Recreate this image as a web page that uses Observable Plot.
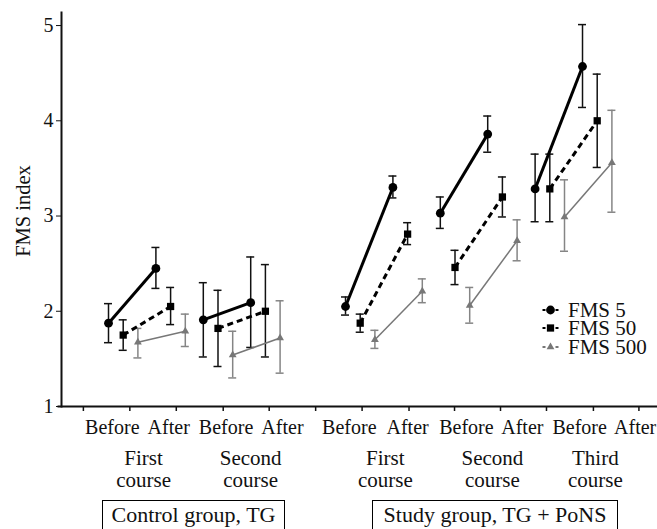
<!DOCTYPE html>
<html>
<head>
<meta charset="utf-8">
<script src="https://cdn.jsdelivr.net/npm/d3@7"></script>
<script src="https://cdn.jsdelivr.net/npm/@observablehq/plot@0.6"></script>
<style>
  html, body { margin: 0; padding: 0; background: #fff; }
  #wrap { position: relative; width: 657px; height: 529px; overflow: hidden; background: #fff; font-family: "Liberation Serif", serif; }
  .box { position: absolute; top: 500px; height: 30px; border: 1px solid #000; box-sizing: border-box; font-size: 22px; line-height: 28px; text-align: center; color: #111; white-space: nowrap; }
  #legend { position: absolute; left: 542px; top: 301px; font-size: 21px; color: #111; }
  #legend .row { display: flex; align-items: center; height: 18.3px; white-space: nowrap; }
  #legend .row span { display: inline-block; height: 18px; line-height: 18px; overflow: visible; }
  #legend svg { margin-right: 9px; }
  #ylabel { position: absolute; left: 23px; top: 211px; transform: translate(-50%, -50%) rotate(-90deg); font-size: 20.5px; line-height: 20px; white-space: nowrap; color: #111; }
</style>
</head>
<body>
<div id="wrap"></div>
<script>
// ---- data ----
const courses = ["First course (Control)", "Second course (Control)", "First course (Study)", "Second course (Study)", "Third course (Study)"];
const courseGroup = ["Control", "Control", "Study", "Study", "Study"];
const seriesNames = ["FMS 5", "FMS 50", "FMS 500"];

const fms5Before   = [1.875, 1.91, 2.05, 3.03, 3.285];
const fms5BeforeHi = [2.08, 2.30, 2.15, 3.20, 3.65];
const fms5BeforeLo = [1.67, 1.52, 1.96, 2.87, 2.94];
const fms5After    = [2.45, 2.09, 3.30, 3.86, 4.57];
const fms5AfterHi  = [2.67, 2.57, 3.42, 4.05, 5.01];
const fms5AfterLo  = [2.24, 1.62, 3.19, 3.67, 4.14];

const fms50Before   = [1.75, 1.82, 1.875, 2.46, 3.285];
const fms50BeforeHi = [1.91, 2.22, 1.97, 2.64, 3.65];
const fms50BeforeLo = [1.59, 1.42, 1.78, 2.28, 2.94];
const fms50After    = [2.05, 2.00, 2.81, 3.20, 4.00];
const fms50AfterHi  = [2.25, 2.49, 2.93, 3.41, 4.49];
const fms50AfterLo  = [1.86, 1.52, 2.70, 2.99, 3.51];

const fms500Before   = [1.675, 1.54, 1.70, 2.06, 2.99];
const fms500BeforeHi = [1.82, 1.79, 1.80, 2.25, 3.38];
const fms500BeforeLo = [1.51, 1.30, 1.61, 1.875, 2.63];
const fms500After    = [1.79, 1.72, 2.21, 2.74, 3.56];
const fms500AfterHi  = [1.97, 2.11, 2.34, 2.96, 4.11];
const fms500AfterLo  = [1.63, 1.35, 2.09, 2.53, 3.04];

const yTicks = [1, 2, 3, 4, 5];
const yLabel = "FMS index";
const phaseLabels = ["Before", "After", "Before", "After", "Before", "After", "Before", "After", "Before", "After"];
const phaseLabelPos = [0.08, 1.27, 2.48, 3.67, 5.08, 6.31, 7.55, 8.73, 9.94, 11.11];
const xTickPos = [-0.53, 0.45, 1.43, 2.42, 3.39, 4.37, 5.35, 6.34, 7.30, 8.27, 9.24, 10.23, 11.19];
const courseLabels = ["First\ncourse", "Second\ncourse", "First\ncourse", "Second\ncourse", "Third\ncourse"];
const courseLabelPos = [0.74, 3.0, 5.84, 8.10, 10.27];
const groupLabels = ["Control group, TG", "Study group, TG + PoNS"];

// ---- build tables ----
const seriesOffset = [0, 0.31, 0.62];
function basePos(i) { return 2 * i + (courseGroup[i] === "Study" ? 1 : 0); }
const raw = [
  [fms5Before, fms5BeforeLo, fms5BeforeHi, fms5After, fms5AfterLo, fms5AfterHi],
  [fms50Before, fms50BeforeLo, fms50BeforeHi, fms50After, fms50AfterLo, fms50AfterHi],
  [fms500Before, fms500BeforeLo, fms500BeforeHi, fms500After, fms500AfterLo, fms500AfterHi]
];
const points = [];
const pairs = [];
raw.forEach((s, si) => {
  courses.forEach((c, ci) => {
    const xb = basePos(ci) + seriesOffset[si];
    const xa = xb + 1;
    points.push({series: seriesNames[si], course: c, x: xb, v: s[0][ci], lo: s[1][ci], hi: s[2][ci]});
    points.push({series: seriesNames[si], course: c, x: xa, v: s[3][ci], lo: s[4][ci], hi: s[5][ci]});
    pairs.push({series: seriesNames[si], course: c, xb, vb: s[0][ci], xa, va: s[3][ci]});
  });
});

const GRAY = "#777";
const style = {
  "FMS 5":   {stroke: "#000", width: 3,   dash: null,  sym: "circle", r: 4.4, bar: "#111"},
  "FMS 50":  {stroke: "#000", width: 3,   dash: "6,4", sym: "square", r: 4.1, bar: "#111"},
  "FMS 500": {stroke: GRAY,   width: 1.5, dash: null,  sym: "triangle", r: 2.9, bar: "#858585"}
};

const marks = [
  Plot.axisY({ticks: yTicks, tickSize: 5, tickPadding: 3, fontSize: 20, tickFormat: d3.format("d"), label: null}),
  Plot.axisX({ticks: xTickPos, tickFormat: () => "", tickSize: 5, tickPadding: 0, strokeWidth: 1.5}),
  Plot.frame({anchor: "left", strokeWidth: 2}),
  Plot.frame({anchor: "bottom", strokeWidth: 2, insetLeft: -3}),
  Plot.text(phaseLabels, {x: (d, i) => phaseLabelPos[i], text: d => d, frameAnchor: "bottom", lineAnchor: "top", dy: 13, fontSize: 20, fill: "#111"}),
  Plot.text(courseLabels, {x: (d, i) => courseLabelPos[i], text: d => d, frameAnchor: "bottom", lineAnchor: "top", dy: 42, fontSize: 21, lineHeight: 1.08, fill: "#111"})
];

seriesNames.forEach(name => {
  const st = style[name];
  const pts = points.filter(p => p.series === name);
  marks.push(Plot.ruleX(pts, {x: "x", y1: "lo", y2: "hi", stroke: st.bar, strokeWidth: 1.5}));
  marks.push(Plot.ruleY(pts, {x1: "x", x2: "x", y: "hi", insetLeft: -4, insetRight: -4, stroke: st.bar, strokeWidth: 1.5}));
  marks.push(Plot.ruleY(pts, {x1: "x", x2: "x", y: "lo", insetLeft: -4, insetRight: -4, stroke: st.bar, strokeWidth: 1.5}));
});
seriesNames.forEach(name => {
  const st = style[name];
  const pr = pairs.filter(p => p.series === name);
  marks.push(Plot.link(pr, {x1: "xb", y1: "vb", x2: "xa", y2: "va", stroke: st.stroke, strokeWidth: st.width, strokeDasharray: st.dash}));
});
seriesNames.forEach(name => {
  const st = style[name];
  const pts = points.filter(p => p.series === name);
  marks.push(Plot.dot(pts, {x: "x", y: "v", symbol: st.sym, r: st.r, fill: st.stroke, stroke: "none"}));
});

const chart = Plot.plot({
  width: 657, height: 529,
  marginLeft: 61, marginRight: 0, marginTop: 12, marginBottom: 123,
  x: {domain: [-0.9916, 11.582], axis: null},
  y: {domain: [1, 5.137], axis: null},
  style: {fontFamily: "Liberation Serif, serif", background: "#fff", color: "#111", overflow: "visible"},
  marks
});
const wrap = document.getElementById("wrap");
wrap.appendChild(chart);

// y-axis title
const yl = document.createElement("div");
yl.id = "ylabel";
yl.textContent = yLabel;
wrap.appendChild(yl);

// group boxes
const boxPos = [[102, 183], [372, 246]];
groupLabels.forEach((g, i) => {
  const b = document.createElement("div");
  b.className = "box";
  b.style.left = boxPos[i][0] + "px";
  b.style.width = boxPos[i][1] + "px";
  b.textContent = g;
  wrap.appendChild(b);
});

// legend
const legend = document.createElement("div");
legend.id = "legend";
seriesNames.forEach(name => {
  const st = style[name];
  const row = document.createElement("div");
  row.className = "row";
  const sym = st.sym === "circle" ? d3.symbolCircle : st.sym === "square" ? d3.symbolSquare : d3.symbolTriangle;
  const path = d3.symbol(sym, Math.PI * st.r * st.r)();
  row.innerHTML = `<svg width="17" height="12" viewBox="-8.5 -6 17 12"><line x1="-8" x2="-5" y1="0" y2="0" stroke="${st.stroke}" stroke-width="2"/><line x1="5" x2="8" y1="0" y2="0" stroke="${st.stroke}" stroke-width="2"/><path d="${path}" fill="${st.stroke}"/></svg><span>${name}</span>`;
  legend.appendChild(row);
});
wrap.appendChild(legend);
</script>
</body>
</html>
